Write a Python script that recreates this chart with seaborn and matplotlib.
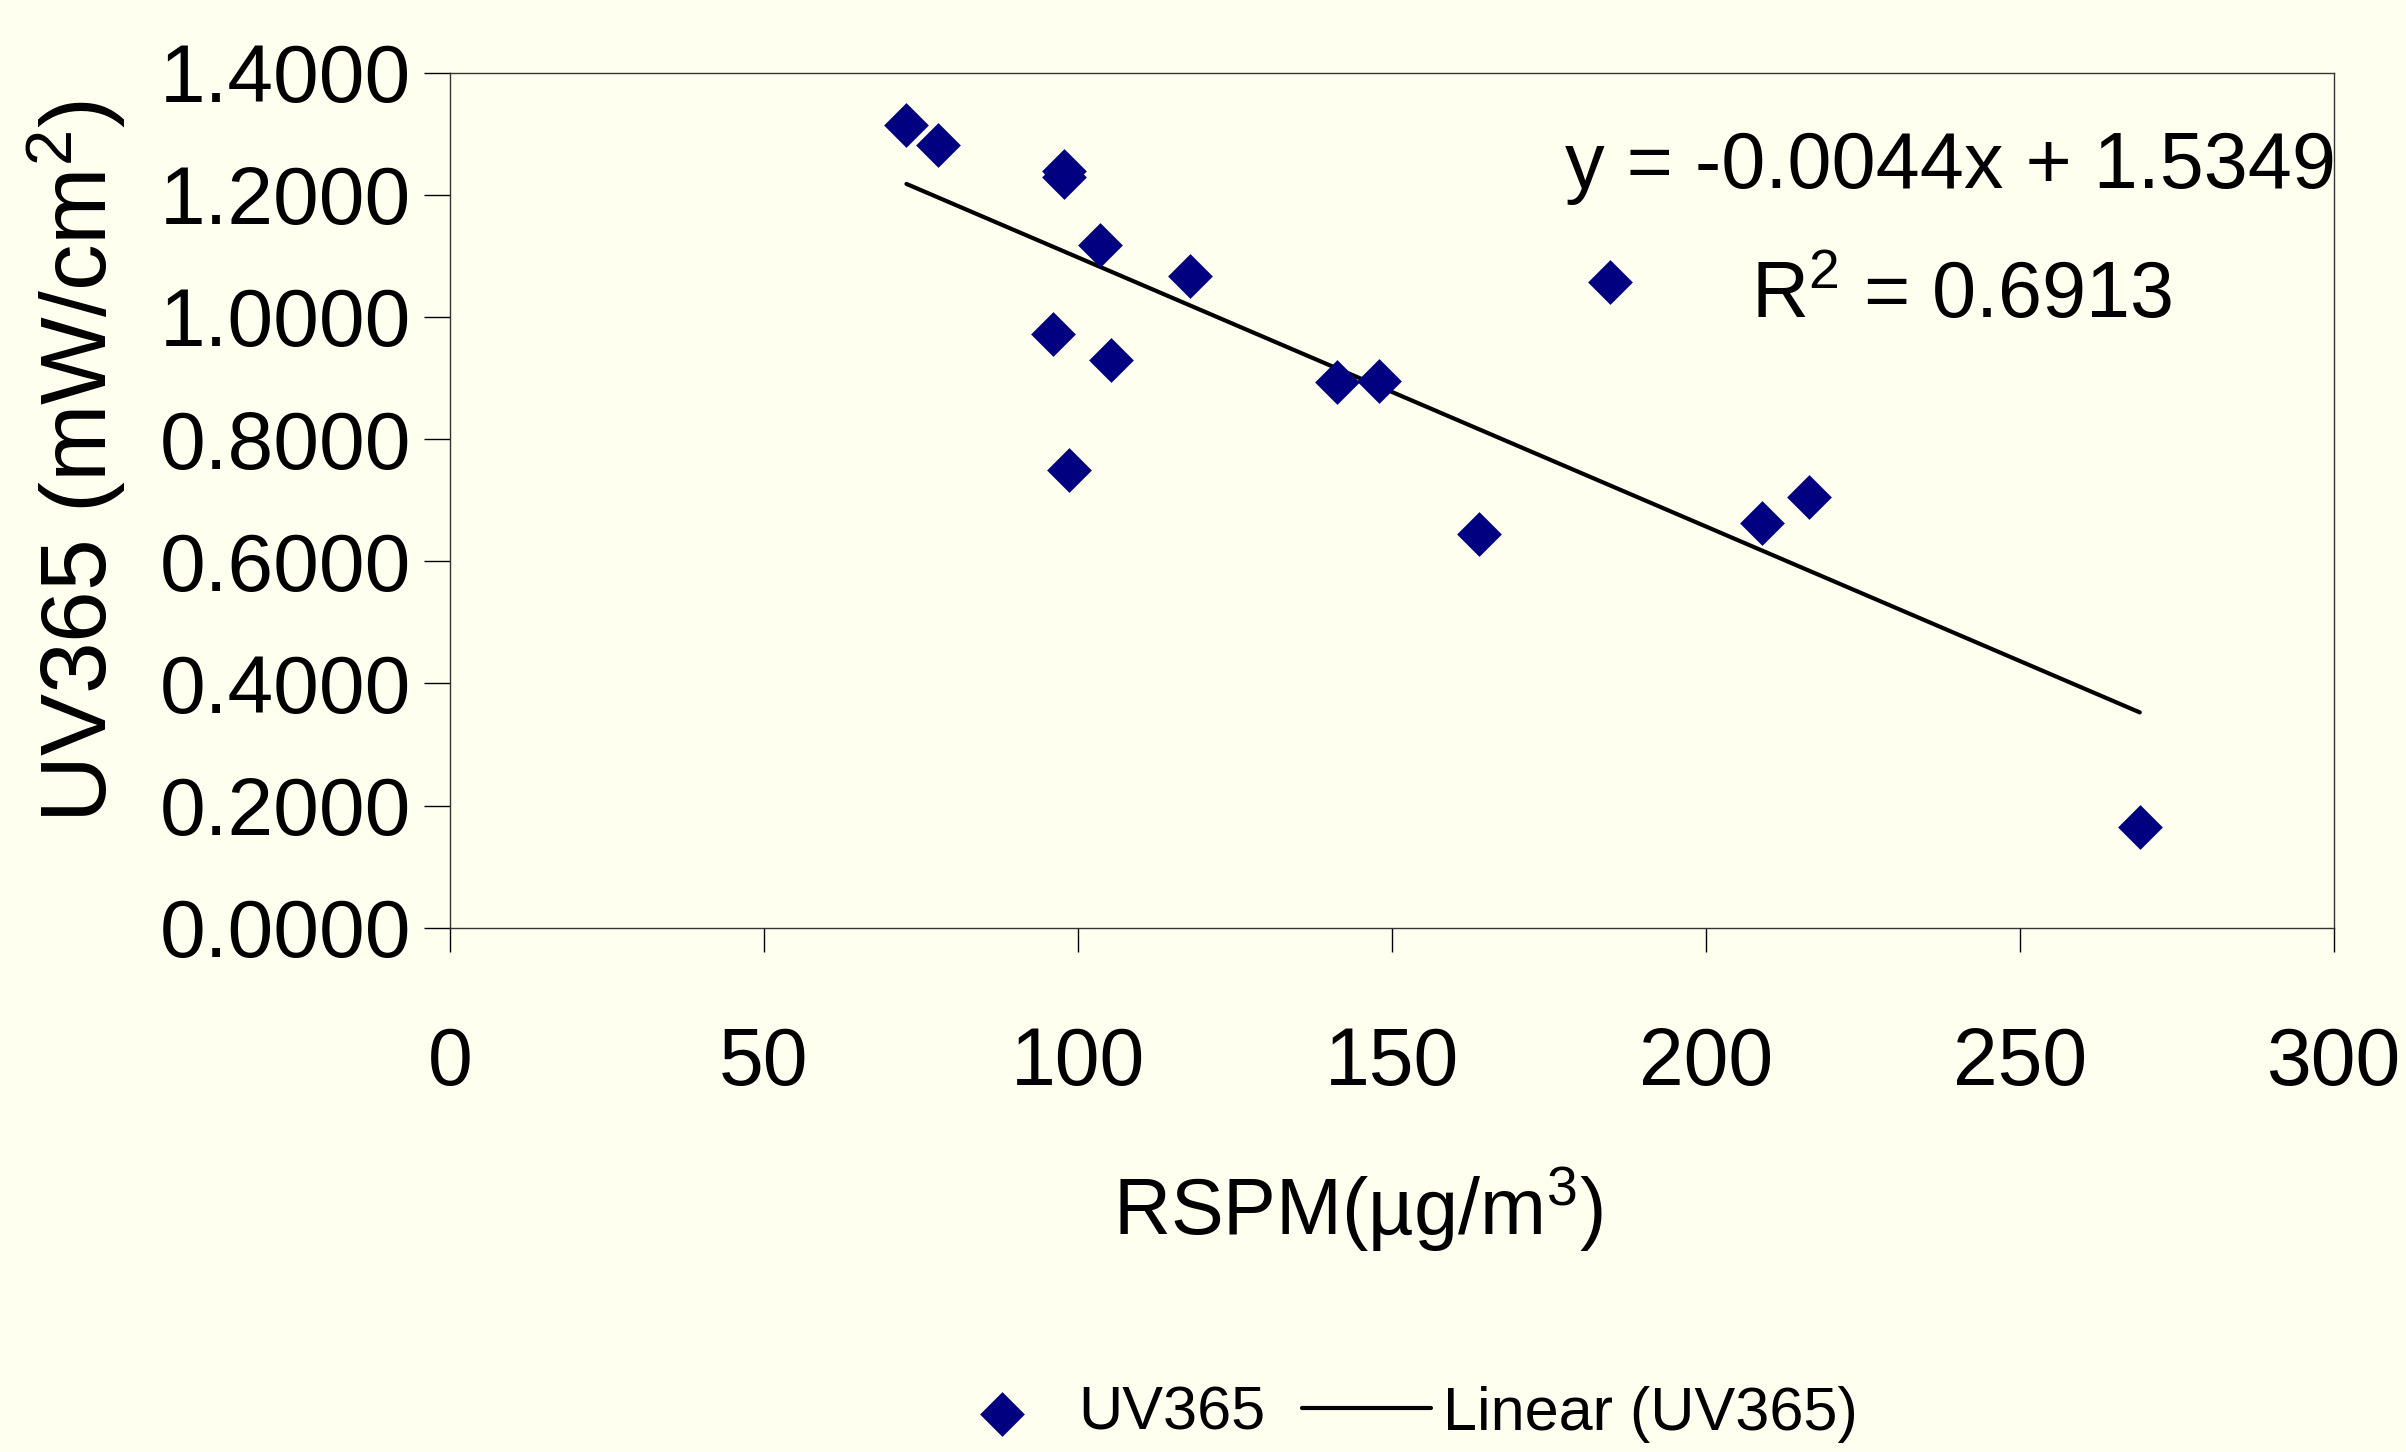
import numpy as np
import pandas as pd
import matplotlib
matplotlib.use("Agg")
import matplotlib.pyplot as plt
import seaborn as sns

# values
rspm = [72.7, 77.7, 97.8, 97.8, 103.6, 117.8, 96.1, 105.3,
        98.6, 141.2, 148.0, 184.8, 163.9, 208.9, 216.5, 269.1]
uv365 = [1.315, 1.281, 1.2386, 1.2288, 1.1176, 1.0664, 0.9715, 0.929,
         0.749, 0.893, 0.8947, 1.057, 0.645, 0.662, 0.705, 0.1647]
x_ticks = [0, 50, 100, 150, 200, 250, 300]
y_ticks = [0.0, 0.2, 0.4, 0.6, 0.8, 1.0, 1.2, 1.4]
equation = "y = -0.0044x + 1.5349"
r_squared = "R$^2$ = 0.6913"

df = pd.DataFrame({"RSPM": rspm, "UV365": uv365})

bg = "#FFFFF0"
sns.set_style("ticks")
plt.rcParams["font.family"] = ["Liberation Sans", "DejaVu Sans"]
plt.rcParams["mathtext.fontset"] = "custom"
plt.rcParams["mathtext.rm"] = "Liberation Sans"
plt.rcParams["mathtext.default"] = "regular"
for k in ["text.color", "axes.labelcolor", "xtick.color", "ytick.color"]:
    plt.rcParams[k] = "black"

fig = plt.figure(figsize=(24.06, 14.52), dpi=100, facecolor=bg)
ax = fig.add_axes([0.187, 0.361, 0.783, 0.589], facecolor=bg)

sns.scatterplot(data=df, x="RSPM", y="UV365", ax=ax, marker="D", s=520,
                color="#000080", edgecolor="#000080", linewidth=0, label="UV365", zorder=3)
sns.regplot(data=df, x="RSPM", y="UV365", ax=ax, scatter=False, ci=None, truncate=True,
            line_kws=dict(color="black", linewidth=3))
fit_line = ax.lines[-1]
fit_line.set_label("Linear (UV365)")

ax.set_xlim(0, 300)
ax.set_ylim(0, 1.4)
ax.set_xticks(x_ticks)
ax.set_yticks(y_ticks)
ax.set_yticklabels([f"{v:.4f}" for v in y_ticks])
ax.tick_params(axis="y", direction="out", length=19, width=1, pad=9, labelsize=59)
ax.tick_params(axis="x", direction="out", length=17, width=1, pad=54, labelsize=58)

for sp in ax.spines.values():
    sp.set_visible(True)
    sp.set_color("#333333")
    sp.set_linewidth(1.0)

ax.set_ylabel("UV365 (mW/cm$^2$)", fontsize=67, va="center")
ax.yaxis.set_label_coords(-0.198, 0.545)
ax.set_xlabel("RSPM(µg/m$^3$)", fontsize=57, va="baseline")
ax.xaxis.set_label_coords(0.482, -0.359)

ax.text(0.592, 0.8645, equation, transform=ax.transAxes, fontsize=57, va="baseline", ha="left")
ax.text(0.6906, 0.7126, r_squared, transform=ax.transAxes, fontsize=57, va="baseline", ha="left")

if ax.get_legend():
    ax.get_legend().remove()
scatter_handle = ax.collections[0]
fig.legend([scatter_handle, fit_line], ["UV365", "Linear (UV365)"], loc="center",
           bbox_to_anchor=(0.581, 0.026), ncol=2, frameon=False, fontsize=44,
           handlelength=2.1, handletextpad=0.2, columnspacing=0.6, markerscale=1.0)

fig.savefig("out.png", dpi=100, facecolor=bg)
